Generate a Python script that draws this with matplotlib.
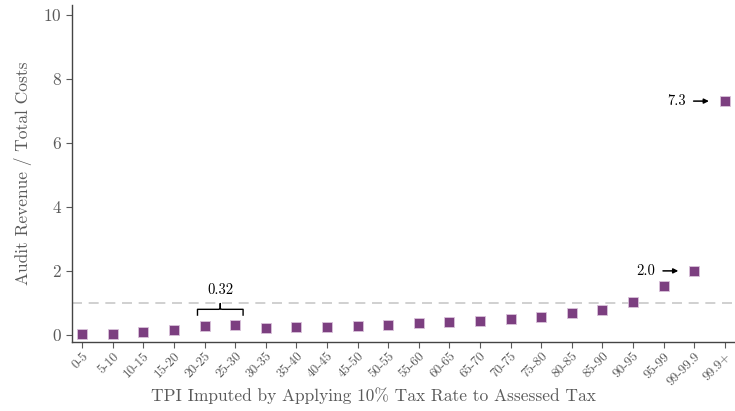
import numpy as np
import matplotlib
matplotlib.use("Agg")
import matplotlib.pyplot as plt

plt.rcParams['font.family'] = 'serif'
plt.rcParams['font.serif'] = ['cmr10']
plt.rcParams['mathtext.fontset'] = 'cm'
plt.rcParams['axes.formatter.use_mathtext'] = True

categories = ["0-5", "5-10", "10-15", "15-20", "20-25", "25-30", "30-35", "35-40",
              "40-45", "45-50", "50-55", "55-60", "60-65", "65-70", "70-75", "75-80",
              "80-85", "85-90", "90-95", "95-99", "99-99.9", "99.9+"]
ratio = [0.02, 0.04, 0.09, 0.17, 0.29, 0.32, 0.22, 0.24, 0.26, 0.29, 0.32,
         0.37, 0.40, 0.44, 0.51, 0.56, 0.68, 0.79, 1.04, 1.53, 2.0, 7.3]

gray = "#5a5a5a"
purple = "#7c3f80"

fig = plt.figure(figsize=(7.35, 4.11), dpi=100)
ax = fig.add_axes([72/735, 1 - 342/411, (734-72)/735, (342-5)/411])

x = np.arange(len(categories))
ax.axhline(1, color="#c8c8c8", linestyle=(0, (6, 4)), linewidth=1.2, zorder=1)
ax.scatter(x, ratio, marker="s", s=48, color=purple, edgecolors="#d9c2da",
           linewidths=0.6, zorder=3)

# brace over 20-25 / 25-30
bx0, bx1 = 3.77, 5.26
by0, by1, by2 = 0.62, 0.80, 0.98
mid = (bx0 + bx1) / 2
ax.plot([bx0, bx0, mid - 0.05, mid, mid, mid, mid + 0.05, bx1, bx1],
        [by0, by1, by1, by1 + 0.02, by2, by1 + 0.02, by1, by1, by0],
        color="black", linewidth=1.0, zorder=4)
ax.text(mid, 1.2, "0.32", ha="center", va="bottom", fontsize=10.5)

# arrows for top groups
ax.annotate("", xy=(19.48, ratio[20]), xytext=(18.98, ratio[20]),
            arrowprops=dict(arrowstyle="-|>", color="black", lw=1.1,
                            mutation_scale=7, shrinkA=0, shrinkB=0))
ax.text(18.72, ratio[20], "2.0", ha="right", va="center", fontsize=10.5)
ax.annotate("", xy=(20.48, ratio[21]), xytext=(19.98, ratio[21]),
            arrowprops=dict(arrowstyle="-|>", color="black", lw=1.1,
                            mutation_scale=7, shrinkA=0, shrinkB=0))
ax.text(19.72, ratio[21], "7.3", ha="right", va="center", fontsize=10.5)

ax.set_xlim(-0.33, 21.3)
ax.set_ylim(-0.22, 10.3)
ax.set_xticks(x)
ax.set_xticklabels(categories, rotation=45, ha="right", rotation_mode="anchor",
                   fontsize=9.5, color=gray)
ax.set_yticks([0, 2, 4, 6, 8, 10])
ax.tick_params(axis="y", labelsize=12.5, labelcolor=gray, color=gray, length=4)
ax.tick_params(axis="x", color=gray, length=4, pad=2)
for s in ["top", "right"]:
    ax.spines[s].set_visible(False)
for s in ["left", "bottom"]:
    ax.spines[s].set_color("#444444")
    ax.spines[s].set_linewidth(1.0)

ax.set_ylabel("Audit Revenue / Total Costs", fontsize=12.5, color=gray, labelpad=8)
ax.set_xlabel("TPI Imputed by Applying 10% Tax Rate to Assessed Tax", fontsize=12.5,
              color=gray)
ax.xaxis.set_label_coords(0.455, -0.135)

fig.savefig("out.png", dpi=100)
